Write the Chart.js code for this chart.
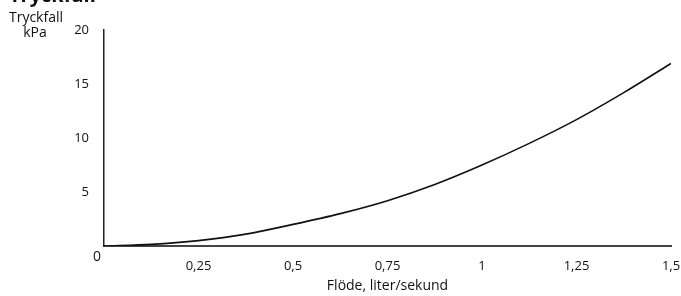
<!DOCTYPE html>
<html>
<head>
<meta charset="utf-8">
<script src="https://cdn.jsdelivr.net/npm/chart.js@4"></script>
<style>
body { margin: 0; background: #fff; }
#wrap { position: relative; width: 681px; height: 296px; overflow: hidden; }
#title { position: absolute; left: 9px; top: -19px; font: bold 20px "Open Sans", sans-serif; color: #111; }
</style>
</head>
<body>
<div id="wrap">
<div id="title">Tryckfall</div>
<canvas id="c" width="681" height="296"></canvas>
</div>
<script>
// flow in liter/sekund, pressure drop in kPa
var flow = [0, 0.125, 0.25, 0.375, 0.5, 0.625, 0.75, 0.875, 1, 1.125, 1.25, 1.375, 1.5];
var drop = [0, 0.15, 0.5, 1.1, 2.0, 3.0, 4.2, 5.7, 7.5, 9.5, 11.7, 14.2, 16.9];
var yTitle = ["Tryckfall", "kPa"];
var xTitle = "Flöde, liter/sekund";

var font = '"Open Sans", sans-serif';

function comma(v) {
    return String(v).replace(".", ",");
}

var pts = [];
for (var i = 0; i < flow.length; i++) pts.push({x: flow[i], y: drop[i]});

// y axis caption and the corner zero
var extras = {
    id: "extras",
    afterDraw: function(chart) {
        var ctx = chart.ctx;
        var xs = chart.scales.x, ys = chart.scales.y;
        ctx.save();
        ctx.fillStyle = "#111";
        ctx.font = "14px " + font;
        ctx.textAlign = "center";
        ctx.textBaseline = "middle";
        ctx.fillText(yTitle[0], 36, 18);
        ctx.fillText(yTitle[1], 35, 33);
        ctx.fillText("0", xs.getPixelForValue(0) - 7, ys.getPixelForValue(0) + 11);
        ctx.restore();
    }
};

new Chart(document.getElementById("c"), {
    type: "line",
    data: {
        datasets: [{
            data: pts,
            borderColor: "#111",
            borderWidth: 1.6,
            pointRadius: 0,
            tension: 0.4,
            cubicInterpolationMode: "monotone",
            fill: false
        }]
    },
    options: {
        responsive: false,
        animation: false,
        layout: { padding: { top: 30, right: 0, bottom: 2, left: 0 } },
        plugins: { legend: { display: false }, tooltip: { enabled: false } },
        scales: {
            x: {
                type: "linear",
                min: 0, max: 1.5,
                grid: { display: false, drawTicks: false },
                border: { color: "#444", width: 2 },
                ticks: {
                    stepSize: 0.25,
                    padding: 12,
                    color: "#111",
                    font: { family: font, size: 13 },
                    maxRotation: 0,
                    callback: function(v) { return v === 0 ? "" : comma(v); }
                },
                title: { display: true, text: xTitle, color: "#111", font: { family: font, size: 14 }, padding: { top: 4, bottom: 0 } },
                afterFit: function(s) { s.height = 48; s.paddingRight = 10; s.paddingLeft = 0; }
            },
            y: {
                min: 0, max: 20,
                grid: { display: false, drawTicks: false },
                border: { color: "#222", width: 1.5 },
                ticks: {
                    stepSize: 5,
                    padding: 15,
                    color: "#111",
                    font: { family: font, size: 13 },
                    callback: function(v) { return v === 0 ? "" : comma(v); }
                },
                afterFit: function(s) { s.width = 104; }
            }
        }
    },
    plugins: [extras]
});
</script>
</body>
</html>
